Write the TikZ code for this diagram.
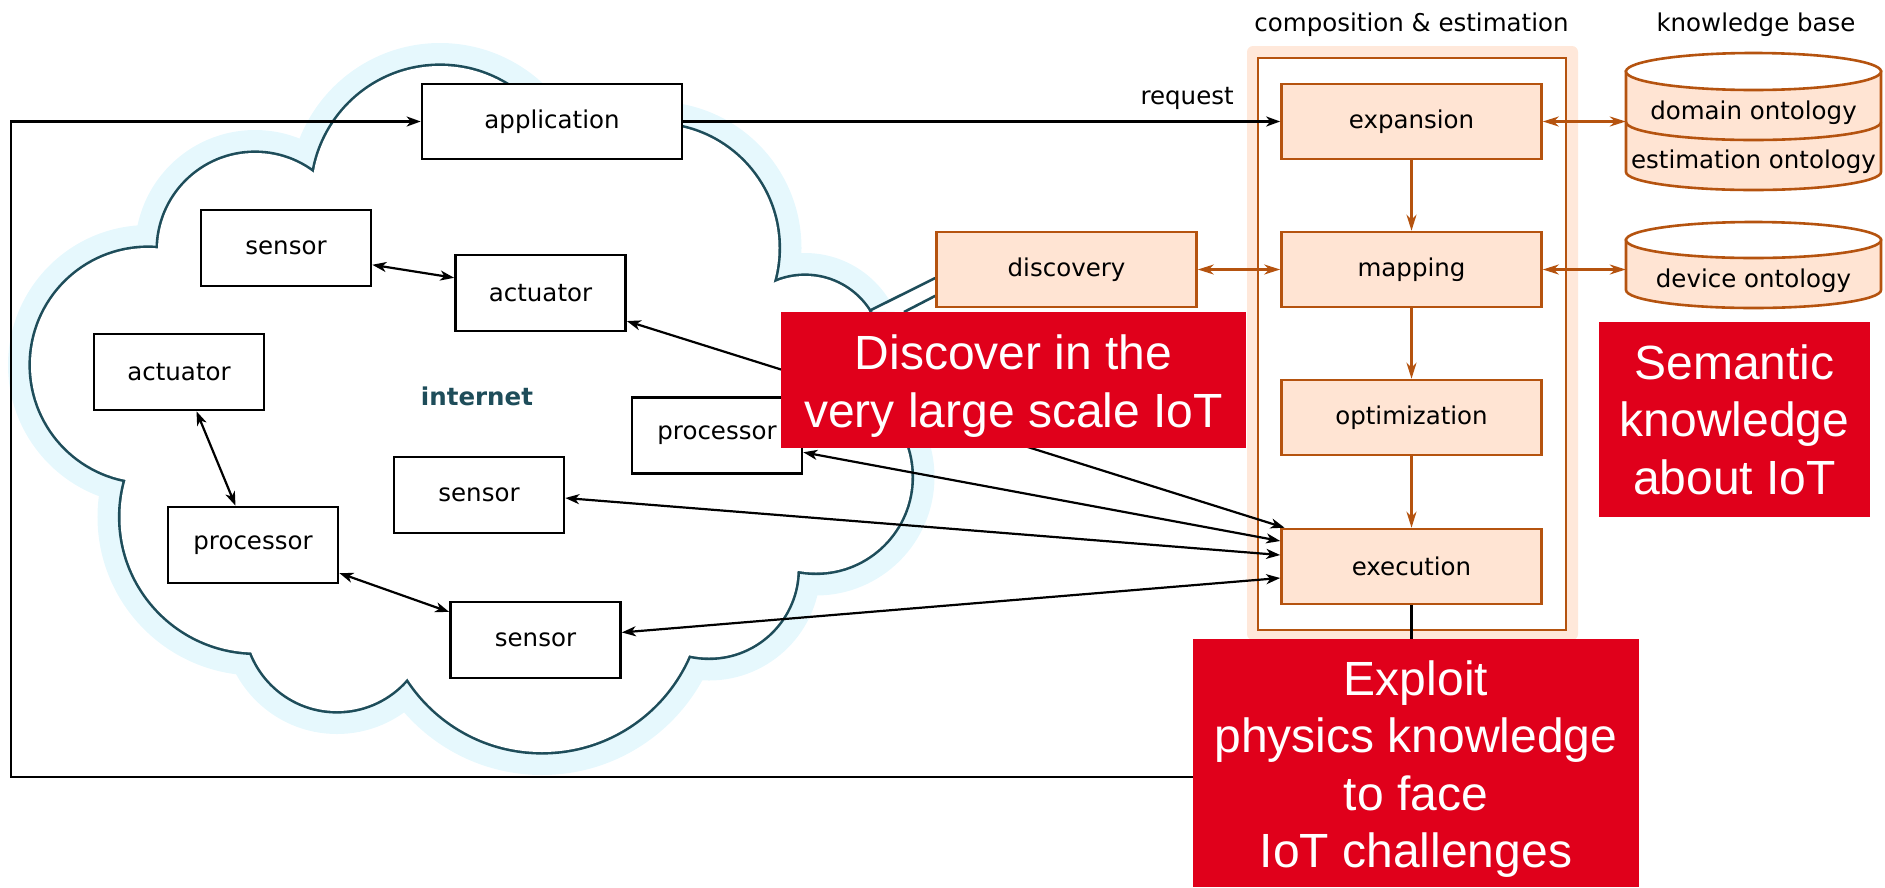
\documentclass[tikz,border=0pt]{standalone}
\usepackage{fontspec}
\usetikzlibrary{arrows.meta,calc,backgrounds}
\newfontfamily\lblfont{DejaVu Sans}
\newfontfamily\redfont{Liberation Sans}
\definecolor{cloudline}{HTML}{1E4D5A}
\definecolor{cloudhalo}{HTML}{E6F8FD}
\definecolor{peach}{HTML}{FFE4D3}
\definecolor{peachlight}{HTML}{FFE8DA}
\definecolor{burnt}{HTML}{B5530F}
\definecolor{alert}{HTML}{E0001B}
\begin{document}
\begin{tikzpicture}[x=1pt,y=-1pt,
  lbl/.style={font=\lblfont\fontsize{24.5}{29}\selectfont},
  plainbox/.style={draw=black, fill=white, line width=2.6pt, minimum width=170pt,
    minimum height=76pt, inner sep=0pt, lbl},
  widebox/.style={plainbox, minimum width=260pt, minimum height=75pt},
  stagebox/.style={draw=burnt, fill=peach, line width=2.6pt, minimum width=260pt,
    minimum height=75pt, inner sep=0pt, lbl},
  link/.style={draw=black, line width=2.2pt, >={Stealth[length=14pt,width=10pt,inset=4pt]}},
  olink/.style={draw=burnt, line width=2.2pt, >={Stealth[length=16pt,width=10pt,inset=5pt]}},
  dbshape/.style={draw=burnt, fill=peach, line width=2.6pt},
  alertbox/.style={fill=alert, text=white, inner sep=0pt, align=center,
    font=\redfont\fontsize{48}{57.5}\selectfont},
]
\useasboundingbox (0,0) rectangle (1885,887);

% composition & estimation frame
\node[fill=peachlight, rounded corners=6pt, minimum width=331pt, minimum height=594pt,
  inner sep=0pt] (compbg) at (1412.5,343) {};
\node[draw=burnt, fill=white, line width=2.6pt, minimum width=308pt, minimum height=572pt,
  inner sep=0pt] (compframe) at (1412,344) {};
\node[lbl] at (1411.5,24.5) {composition \& estimation};
\node[lbl] at (1756,24.5) {knowledge base};

% devices inside the internet cloud
\node[widebox] (application) at (552,121.5) {application};
\node[plainbox] (sensor1) at (286,248) {sensor};
\node[plainbox] (actuator1) at (540.5,293) {actuator};
\node[plainbox] (actuator2) at (179,372) {actuator};
\node[plainbox] (processor1) at (717,435.5) {processor};
\node[plainbox] (sensor2) at (479,495) {sensor};
\node[plainbox] (processor2) at (253,545) {processor};
\node[plainbox] (sensor3) at (535.5,640) {sensor};
\node[font=\lblfont\bfseries\fontsize{24.5}{29}\selectfont, text=cloudline] (internet) at (477,396) {internet};

% processing stages
\node[stagebox] (discovery) at (1066.5,269.5) {discovery};
\node[stagebox] (expansion) at (1411.5,121.5) {expansion};
\node[stagebox] (mapping) at (1411.5,269.5) {mapping};
\node[stagebox] (optimization) at (1411.5,417.5) {optimization};
\node[stagebox] (execution) at (1411.5,566.5) {execution};

% knowledge base cylinders
\node[minimum width=255pt, minimum height=137pt, inner sep=0pt] (kb1) at (1753.5,121.5) {};
\node[minimum width=255pt, minimum height=77pt, inner sep=0pt] (kb2) at (1753.5,269.5) {};
\filldraw[dbshape] (1626,71.5) -- (1626,172)
  arc[start angle=180, end angle=360, x radius=127.5pt, y radius=18pt] -- (1881,71.5) -- cycle;
\filldraw[dbshape, fill=white] (1753.5,71.5) ellipse [x radius=127.5pt, y radius=18.5pt];
\draw[dbshape, fill=none] (1626,122) arc[start angle=180, end angle=360, x radius=127.5pt, y radius=18pt];
\filldraw[dbshape] (1626,240) -- (1626,290)
  arc[start angle=180, end angle=360, x radius=127.5pt, y radius=18pt] -- (1881,240) -- cycle;
\filldraw[dbshape, fill=white] (1753.5,240) ellipse [x radius=127.5pt, y radius=18pt];
\node[lbl] at (1753.5,113) {domain ontology};
\node[lbl] at (1753.5,162) {estimation ontology};
\node[lbl] at (1753.5,281) {device ontology};

% the internet cloud: a union of round lobes with a light halo
\begin{scope}[on background layer]
\def\lobes{148/365/117, 255/250/97, 440/194/128, 655/248/123.5, 805/352/76,
  816/477/95.5, 709/569/88.5, 542/592/160, 337/619/92, 256/517/135.5}
\foreach \cx/\cy/\r in \lobes {\draw[cloudhalo, line width=46pt] (\cx,\cy) circle[radius=\r];}
\foreach \cx/\cy/\r in \lobes {\draw[cloudline, line width=5.2pt] (\cx,\cy) circle[radius=\r];}
\foreach \cx/\cy/\r in \lobes {\fill[white] (\cx,\cy) circle[radius=\r];}
\fill[white] (158,249) -- (314,173) -- (565,164) -- (774,283) -- (869,311) -- (867,396)
  -- (798,571) -- (689,655) -- (407,678) -- (251,652) -- (126,480) -- cycle;
\fill[white] (540,158) rectangle (595,178);
\coordinate (tongueA) at (869,311);
\coordinate (tongueB) at (904,312);
\coordinate (discA) at ($(discovery.north west)!0.61!(discovery.south west)$);
\coordinate (discB) at ($(discovery.north west)!0.84!(discovery.south west)$);
\fill[white] (tongueA) -- (discA) -- (discB) -- (tongueB) -- cycle;
\draw[cloudline, line width=2.6pt] (tongueA) -- (discA) (discB) -- (tongueB);
\end{scope}

% links between devices and to execution
\draw[link,<->] (sensor1.-11) -- (actuator1.170);
\draw[link,<->] (actuator2.-66) -- (processor2.114);
\draw[link,<->] (processor2.-18) -- (sensor3.162);
\draw[link,<->] (actuator1.-18) -- (execution.163);
\draw[link,<->] (processor1.-11) -- (execution.169);
\draw[link,<->] (sensor2.-2) -- (execution.175);
\draw[link,<->] (sensor3.5) -- (execution.185);

% request and feedback loop
\draw[link,->] (application.east) -- (expansion.west);
\node[lbl, anchor=base east] (request) at ($(expansion.west)+(-43,-17)$) {request};
\coordinate (loopcorner) at (11,777);
\draw[link,->] (execution.south) |- (loopcorner) |- (application.west);

% stage flow
\draw[olink,->] (expansion.south) -- (mapping.north);
\draw[olink,->] (mapping.south) -- (optimization.north);
\draw[olink,->] (optimization.south) -- (execution.north);
\draw[olink,<->] (discovery.east) -- (mapping.west);
\draw[olink,<->] (expansion.east) -- (kb1.west);
\draw[olink,<->] (mapping.east) -- (kb2.west);

% highlighted statements
\node[alertbox, minimum width=465pt, minimum height=136pt] (discover) at (1013.5,380)
  {\rule{0pt}{47pt}Discover in the\\very large scale IoT};
\node[alertbox, minimum width=271pt, minimum height=195pt] (semantic) at (1734.5,419.5)
  {Semantic\\knowledge\\about IoT};
\node[alertbox, minimum width=446pt, minimum height=248pt] (exploit) at (1416,763)
  {\rule{0pt}{47pt}Exploit\\physics knowledge\\to face\\IoT challenges};
\end{tikzpicture}
\end{document}
